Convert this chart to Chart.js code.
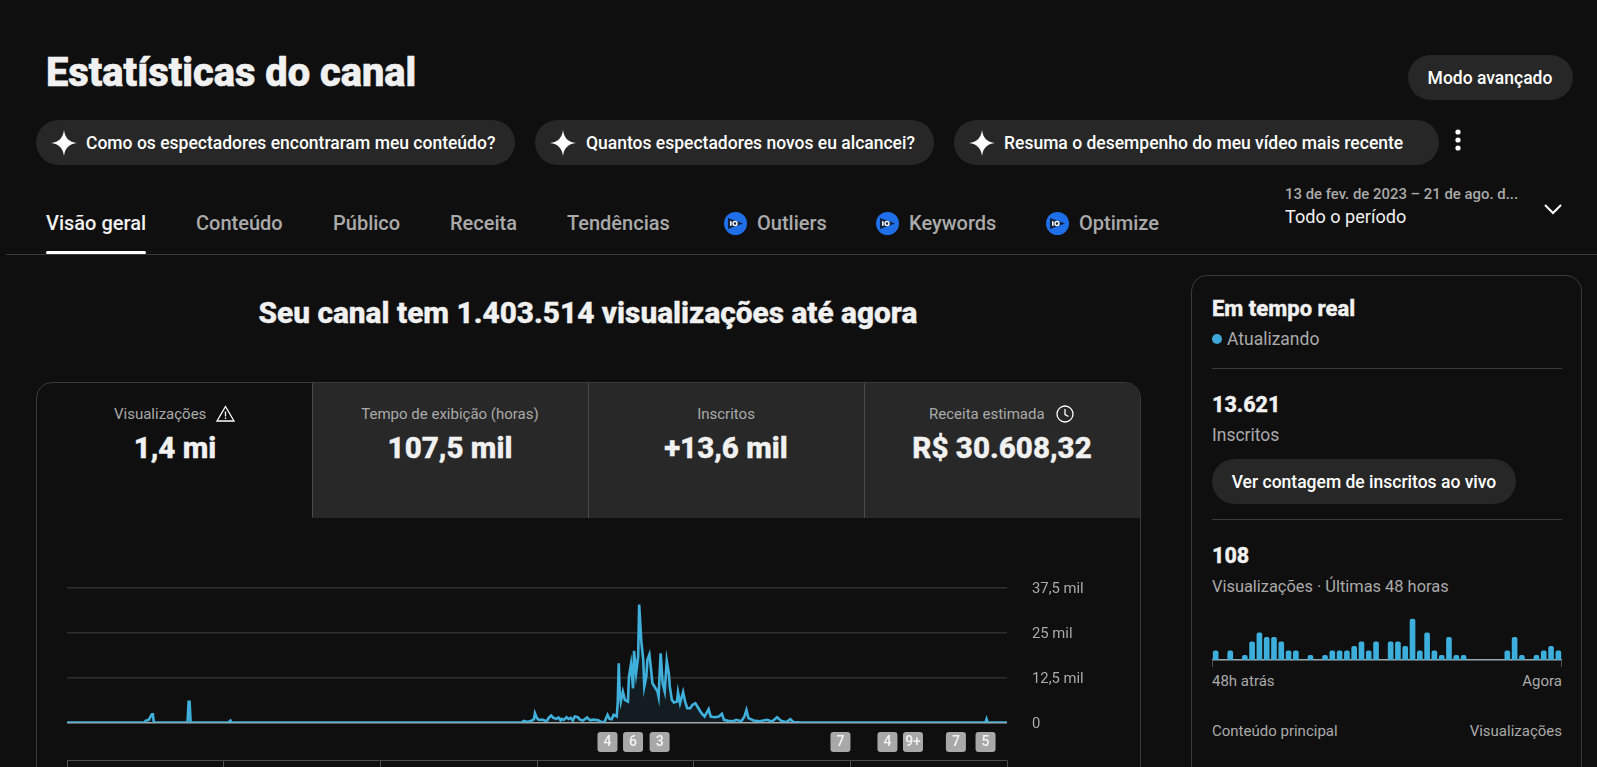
<!DOCTYPE html>
<html lang="pt-BR">
<head>
<meta charset="utf-8">
<title>Estatísticas do canal</title>
<script src="https://cdn.jsdelivr.net/npm/chart.js@4"></script>
<style>
  html, body { margin: 0; background: #0f0f0f; }
  body { position: relative; width: 1597px; height: 767px; overflow: hidden; font-family: Roboto, sans-serif; color: #f1f1f1; }
  .t { position: absolute; transform: translateY(-50%); white-space: nowrap; }
  .c { transform: translate(-50%, -50%); }
  .r { transform: translate(-100%, -50%); }
  .box { position: absolute; box-sizing: border-box; }
  .pill { position: absolute; background: #272727; border-radius: 23px; }
  .pt { font-size: 17.5px; font-weight: 500; color: #fff; }
  .tab { font-size: 20px; font-weight: 500; color: #aaa; }
  .lab { font-size: 15px; color: #aaa; }
  .big { font-size: 29.6px; font-weight: 800; color: #f1f1f1; -webkit-text-stroke: 0.4px #f1f1f1; }
  .grey { font-size: 17.5px; color: #aaa; }
  .small { font-size: 15px; color: #aaa; }
  .num { font-size: 21.5px; font-weight: 800; -webkit-text-stroke: 0.3px #f1f1f1; }
  .rule { position: absolute; height: 1px; background: #3a3a3a; }
  .iq { position: absolute; width: 23px; height: 23px; border-radius: 50%; background: #1f6fe8; }
  svg { position: absolute; }
  canvas { position: absolute; }
</style>
</head>
<body>
<span class="t" style="left:46px;top:72px;font-size:39.8px;font-weight:800;-webkit-text-stroke:0.7px #f1f1f1">Estatísticas do canal</span>

<div class="pill" style="left:1408px;top:55px;width:165px;height:45px"></div>
<span class="t c pt" style="left:1490px;top:77.5px">Modo avançado</span>

<div class="pill" style="left:36px;top:120px;width:479px;height:45px"></div>
<div class="pill" style="left:535px;top:120px;width:399px;height:45px"></div>
<div class="pill" style="left:954px;top:120px;width:485px;height:45px"></div>
<svg style="left:51px;top:130px" width="26" height="26" viewBox="0 0 26 26"><path d="M13 0C14 8 18 12 26 13C18 14 14 18 13 26C12 18 8 14 0 13C8 12 12 8 13 0Z" fill="#fff"/></svg>
<svg style="left:550px;top:130px" width="26" height="26" viewBox="0 0 26 26"><path d="M13 0C14 8 18 12 26 13C18 14 14 18 13 26C12 18 8 14 0 13C8 12 12 8 13 0Z" fill="#fff"/></svg>
<svg style="left:969px;top:130px" width="26" height="26" viewBox="0 0 26 26"><path d="M13 0C14 8 18 12 26 13C18 14 14 18 13 26C12 18 8 14 0 13C8 12 12 8 13 0Z" fill="#fff"/></svg>
<span class="t pt" style="left:86px;top:143px">Como os espectadores encontraram meu conteúdo?</span>
<span class="t pt" style="left:586px;top:143px">Quantos espectadores novos eu alcancei?</span>
<span class="t pt" style="left:1004px;top:143px">Resuma o desempenho do meu vídeo mais recente</span>
<svg style="left:1452px;top:129px" width="12" height="24" viewBox="0 0 12 24"><circle cx="6" cy="3" r="2.6" fill="#fff"/><circle cx="6" cy="11" r="2.6" fill="#fff"/><circle cx="6" cy="19" r="2.6" fill="#fff"/></svg>

<span class="t tab" style="left:46px;top:223px;color:#f1f1f1">Visão geral</span>
<span class="t tab" style="left:196px;top:223px">Conteúdo</span>
<span class="t tab" style="left:333px;top:223px">Público</span>
<span class="t tab" style="left:450px;top:223px">Receita</span>
<span class="t tab" style="left:567px;top:223px">Tendências</span>
<div class="iq" style="left:724px;top:212px"></div>
<svg style="left:728px;top:218px" width="16" height="11" viewBox="0 0 16 11"><path d="M0 0L15 5.5L0 11Z" fill="#10223f"/><rect x="2" y="3.2" width="1.6" height="4.6" fill="#fff"/><circle cx="7" cy="5.5" r="2" fill="none" stroke="#fff" stroke-width="1.4"/></svg>
<span class="t tab" style="left:757px;top:223px">Outliers</span>
<div class="iq" style="left:876px;top:212px"></div>
<svg style="left:880px;top:218px" width="16" height="11" viewBox="0 0 16 11"><path d="M0 0L15 5.5L0 11Z" fill="#10223f"/><rect x="2" y="3.2" width="1.6" height="4.6" fill="#fff"/><circle cx="7" cy="5.5" r="2" fill="none" stroke="#fff" stroke-width="1.4"/></svg>
<span class="t tab" style="left:909px;top:223px">Keywords</span>
<div class="iq" style="left:1046px;top:212px"></div>
<svg style="left:1050px;top:218px" width="16" height="11" viewBox="0 0 16 11"><path d="M0 0L15 5.5L0 11Z" fill="#10223f"/><rect x="2" y="3.2" width="1.6" height="4.6" fill="#fff"/><circle cx="7" cy="5.5" r="2" fill="none" stroke="#fff" stroke-width="1.4"/></svg>
<span class="t tab" style="left:1079px;top:223px">Optimize</span>

<span class="t" style="left:1285px;top:193.5px;font-size:14.9px;font-weight:500;color:#aaa">13 de fev. de 2023 – 21 de ago. d...</span>
<span class="t" style="left:1285px;top:216px;font-size:18.1px;color:#f1f1f1">Todo o período</span>
<svg style="left:1543px;top:203px" width="20" height="12" viewBox="0 0 20 12"><path d="M2 2L10 10L18 2" fill="none" stroke="#fff" stroke-width="2"/></svg>

<div class="rule" style="left:6px;top:254px;width:1591px"></div>
<div class="box" style="left:46px;top:251px;width:100px;height:3px;background:#fff;border-radius:2px"></div>

<span class="t c" style="left:588px;top:312px;font-size:29.8px;font-weight:800;-webkit-text-stroke:0.4px #f1f1f1">Seu canal tem 1.403.514 visualizações até agora</span>

<!-- metric tabs -->
<div class="box" style="left:36px;top:382px;width:1105px;height:420px;border:1px solid #3a3a3a;border-radius:16px;overflow:hidden">
  <div class="box" style="left:275px;top:0;width:829px;height:135px;background:#282828;border-left:1px solid #4a4a4a;border-bottom:1px solid #282828"></div>
  <div class="box" style="left:551px;top:0;width:1px;height:135px;background:#4a4a4a"></div>
  <div class="box" style="left:827px;top:0;width:1px;height:135px;background:#4a4a4a"></div>
</div>
<span class="t lab" style="left:114px;top:414px">Visualizações</span>
<svg style="left:216px;top:405px" width="19" height="17" viewBox="0 0 19 17"><path d="M9.5 1.5L18 16H1Z" fill="none" stroke="#fff" stroke-width="1.3"/><path d="M9.5 6.5V11.5M9.5 12.6V14" stroke="#fff" stroke-width="1.3"/></svg>
<span class="t c big" style="left:175px;top:448px">1,4 mi</span>
<span class="t c lab" style="left:450px;top:414px">Tempo de exibição (horas)</span>
<span class="t c big" style="left:450px;top:448px">107,5 mil</span>
<span class="t c lab" style="left:726px;top:414px">Inscritos</span>
<span class="t c big" style="left:726px;top:448px">+13,6 mil</span>
<span class="t lab" style="left:929px;top:414px">Receita estimada</span>
<svg style="left:1056px;top:405px" width="18" height="18" viewBox="0 0 18 18"><circle cx="9" cy="9" r="8" fill="none" stroke="#fff" stroke-width="1.3"/><path d="M9 4V9.5L12.5 11.5" fill="none" stroke="#fff" stroke-width="1.3"/></svg>
<span class="t c big" style="left:1002px;top:448px">R$ 30.608,32</span>

<canvas id="viewsChart" style="left:67px;top:570px;width:1040px;height:197px"></canvas>

<!-- realtime panel -->
<div class="box" style="left:1191px;top:275px;width:391px;height:560px;border:1px solid #3a3a3a;border-radius:16px"></div>
<span class="t" style="left:1212px;top:308px;font-size:22px;font-weight:800;-webkit-text-stroke:0.3px #f1f1f1">Em tempo real</span>
<div class="box" style="left:1212px;top:334px;width:10px;height:10px;border-radius:50%;background:#3ea6d9"></div>
<span class="t grey" style="left:1227px;top:339px">Atualizando</span>
<div class="rule" style="left:1212px;top:368px;width:350px"></div>
<span class="t num" style="left:1212px;top:404px">13.621</span>
<span class="t grey" style="left:1212px;top:435px">Inscritos</span>
<div class="pill" style="left:1212px;top:459px;width:304px;height:45px"></div>
<span class="t c pt" style="left:1364px;top:482px">Ver contagem de inscritos ao vivo</span>
<div class="rule" style="left:1212px;top:519px;width:350px"></div>
<span class="t num" style="left:1212px;top:555px">108</span>
<span class="t grey" style="left:1212px;top:586px;font-size:16.4px">Visualizações · Últimas 48 horas</span>
<canvas id="liveChart" style="left:1212px;top:610px;width:350px;height:60px"></canvas>
<span class="t small" style="left:1212px;top:681px">48h atrás</span>
<span class="t r small" style="left:1562px;top:681px">Agora</span>
<span class="t small" style="left:1212px;top:731px">Conteúdo principal</span>
<span class="t r small" style="left:1562px;top:731px">Visualizações</span>

<script>
// day number since 13 Feb 2023, views on that day
const days = [0, 76, 77, 80, 83, 84, 85, 118, 119, 120, 121, 158, 160, 161, 423, 445, 447, 450, 452, 455, 457, 458, 460, 462, 465, 468, 470, 472, 474, 476, 479, 481, 483, 484, 486, 489, 491, 493, 495, 497, 500, 502, 505, 509, 512, 515, 520, 523, 526, 529, 531, 533, 535, 538, 539, 540, 541, 542, 544, 546, 549, 550, 552, 554, 555, 557, 559, 560, 562, 564, 565, 567, 568, 570, 571, 573, 576, 578, 579, 581, 583, 585, 587, 589, 590, 592, 594, 597, 598, 600, 603, 605, 607, 610, 612, 615, 618, 621, 624, 628, 630, 634, 638, 641, 643, 647, 652, 655, 660, 663, 665, 667, 672, 678, 685, 690, 695, 699, 704, 708, 711, 717, 899, 900, 901, 920];
const views = [0, 0, 460, 740, 2310, 2300, 0, 0, 5740, 5740, 0, 0, 550, 0, 0, 0, 460, 200, 250, 560, 930, 2590, 1200, 700, 800, 500, 550, 1480, 1950, 1300, 1000, 1390, 600, 1000, 700, 1480, 1000, 1300, 550, 1670, 1480, 800, 550, 1390, 600, 800, 650, 100, 100, 2130, 1000, 900, 2130, 1670, 5370, 16480, 8150, 5830, 8610, 6300, 5830, 12780, 16300, 9540, 20000, 13700, 18330, 32870, 22960, 17400, 10000, 12780, 17400, 18980, 16480, 10930, 9540, 8610, 7220, 19260, 10930, 8610, 17220, 13700, 10000, 6300, 5560, 5830, 8430, 5370, 8520, 5830, 3980, 3980, 4910, 5370, 3980, 2590, 1670, 3700, 1670, 1480, 1670, 2410, 740, 460, 350, 740, 350, 1670, 3520, 1200, 560, 350, 740, 280, 1480, 460, 100, 930, 100, 30, 0, 930, 60, 0];
const yTicks = [0, 12500, 25000, 37500];
const yLabels = ['0', '12,5 mil', '25 mil', '37,5 mil'];
const frameDays = [0, 153, 306, 460, 613, 766, 920];
const noteDays = [529, 554, 580, 757, 803, 828, 870, 899];
const noteLabels = ['4', '6', '3', '7', '4', '9+', '7', '5'];

const liveHours = ['48', '47', '46', '45', '44', '43', '42', '41', '40', '39', '38', '37', '36', '35', '34', '33', '32', '31', '30', '29', '28', '27', '26', '25', '24', '23', '22', '21', '20', '19', '18', '17', '16', '15', '14', '13', '12', '11', '10', '9', '8', '7', '6', '5', '4', '3', '2', '1'];
const liveViews = [2, 0, 2, 0, 1, 4, 6, 5, 5, 4, 2, 2, 0, 1, 0, 1, 2, 2, 2, 3, 4, 2, 4, 0, 4, 4, 3, 9, 2, 6, 2, 1, 5, 1, 1, 0, 0, 0, 0, 0, 2, 5, 1, 0, 1, 2, 3, 2];

const lineBlue = '#3fb0dc';

// comment chips and the date frame under the line chart
const notesPlugin = {
    id: 'notes',
    afterDraw(chart) {
        const c = chart.ctx;
        const x = chart.scales.x;
        c.save();
        c.strokeStyle = '#4d4d4d';
        c.lineWidth = 1;
        c.beginPath();
        c.moveTo(x.getPixelForValue(0), 190.5);
        c.lineTo(x.getPixelForValue(920), 190.5);
        frameDays.forEach(d => {
            const px = Math.round(x.getPixelForValue(d)) + 0.5;
            c.moveTo(px, 190.5);
            c.lineTo(px, 197);
        });
        c.stroke();
        c.font = '500 14px Roboto';
        c.textAlign = 'center';
        c.textBaseline = 'middle';
        noteDays.forEach((d, i) => {
            const px = x.getPixelForValue(d);
            c.fillStyle = '#a8a8a8';
            c.beginPath();
            c.roundRect(px - 10, 162, 20, 20, 3);
            c.fill();
            c.fillStyle = '#f4f4f4';
            c.fillText(noteLabels[i], px, 172.5);
        });
        c.restore();
    }
};

new Chart(document.getElementById('viewsChart'), {
    type: 'line',
    data: {
        datasets: [{
            data: days.map((d, i) => ({ x: d, y: views[i] })),
            borderColor: lineBlue,
            borderWidth: 2.6,
            backgroundColor: 'rgba(63,176,220,0.09)',
            fill: 'origin',
            pointRadius: 0,
            tension: 0
        }]
    },
    options: {
        responsive: false,
        animation: false,
        layout: { padding: { top: 18 } },
        plugins: { legend: { display: false }, tooltip: { enabled: false } },
        scales: {
            x: {
                type: 'linear',
                min: 0,
                max: 920,
                grid: { display: false },
                border: { display: false },
                ticks: { display: false },
                afterFit(scale) { scale.height = 44.5; scale.paddingTop = 0; scale.paddingBottom = 0; }
            },
            y: {
                position: 'right',
                min: 0,
                max: 37500,
                afterBuildTicks(scale) { scale.ticks = yTicks.map(v => ({ value: v })); },
                afterFit(scale) { scale.width = 100; scale.paddingTop = 0; scale.paddingBottom = 0; },
                grid: {
                    drawTicks: false,
                    lineWidth: 1.5,
                    color: ctx => ctx.tick.value === 0 ? '#aaaaaa' : '#303030'
                },
                border: { display: false },
                ticks: {
                    padding: 25,
                    labelOffset: 1.5,
                    color: '#aaa',
                    font: { family: 'Roboto', size: 14.8 },
                    callback: (v) => yLabels[yTicks.indexOf(v)]
                }
            }
        }
    },
    plugins: [notesPlugin]
});

new Chart(document.getElementById('liveChart'), {
    type: 'bar',
    data: {
        labels: liveHours,
        datasets: [{
            data: liveViews,
            backgroundColor: '#3cafdc',
            barThickness: 5,
            borderRadius: { topLeft: 2, topRight: 2 },
            borderSkipped: 'bottom'
        }]
    },
    options: {
        responsive: false,
        animation: false,
        plugins: { legend: { display: false }, tooltip: { enabled: false } },
        scales: {
            x: {
                grid: { display: false, drawTicks: false },
                border: { color: '#aaa', width: 1.5 },
                ticks: { display: false },
                afterFit(scale) { scale.height = 10; }
            },
            y: {
                display: false,
                min: 0,
                max: 11
            }
        }
    },
    plugins: [{
        id: 'ends',
        afterDraw(chart) {
            const c = chart.ctx;
            const a = chart.chartArea;
            c.save();
            c.strokeStyle = '#4d4d4d';
            c.beginPath();
            c.moveTo(a.left + 0.5, a.bottom);
            c.lineTo(a.left + 0.5, a.bottom + 7);
            c.moveTo(a.right - 0.5, a.bottom);
            c.lineTo(a.right - 0.5, a.bottom + 7);
            c.stroke();
            c.restore();
        }
    }]
});
</script>
</body>
</html>
